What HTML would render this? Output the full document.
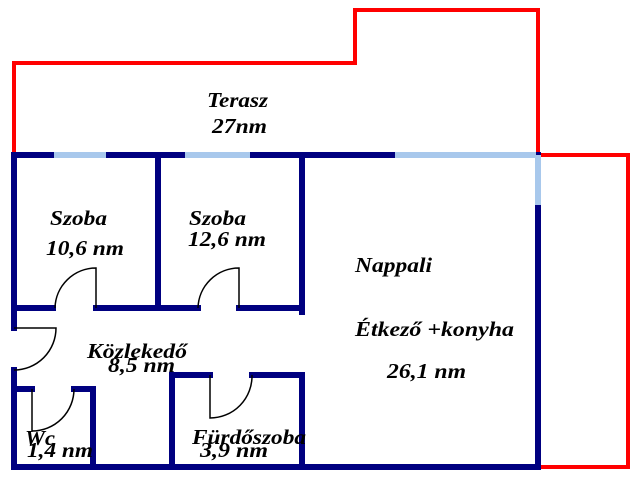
<!DOCTYPE html>
<html><head><meta charset="utf-8"><style>
html,body{margin:0;padding:0;background:#fff;}
svg{display:block}
text{font-family:"Liberation Serif",serif;font-style:italic;font-weight:bold;font-size:21px;fill:#000}
</style></head><body>
<svg width="640" height="480" viewBox="0 0 640 480" xmlns="http://www.w3.org/2000/svg">
<g fill="none" stroke="#f00" stroke-width="4">
<polyline points="14,155 14,63 355,63 355,10 538,10 538,155"/>
<polyline points="540,155 628,155 628,467 540,467"/>
</g>
<g stroke="#000080" stroke-width="6" stroke-linecap="square" fill="none">
<line x1="14" y1="155" x2="538" y2="155"/>
<line x1="14" y1="155" x2="14" y2="328"/>
<line x1="14" y1="370" x2="14" y2="467"/>
<line x1="14" y1="467" x2="538" y2="467"/>
<line x1="538" y1="205" x2="538" y2="467"/>
<line x1="158" y1="155" x2="158" y2="308"/>
<line x1="302" y1="155" x2="302" y2="312"/>
<line x1="302" y1="375" x2="302" y2="467"/>
<line x1="14" y1="308" x2="53" y2="308"/>
<line x1="96" y1="308" x2="198" y2="308"/>
<line x1="239" y1="308" x2="302" y2="308"/>
<line x1="14" y1="389" x2="32" y2="389"/>
<line x1="74" y1="389" x2="93" y2="389"/>
<line x1="93" y1="389" x2="93" y2="467"/>
<line x1="172" y1="375" x2="172" y2="467"/>
<line x1="172" y1="375" x2="210" y2="375"/>
<line x1="252" y1="375" x2="302" y2="375"/>
</g>
<g stroke="#a8c8ec" stroke-width="6">
<line x1="54" y1="155" x2="106" y2="155"/>
<line x1="185" y1="155" x2="250" y2="155"/>
<line x1="395" y1="155" x2="536" y2="155"/>
<line x1="538" y1="155" x2="538" y2="205"/>
</g>
<g stroke="#000" stroke-width="1.5" fill="none">
<path d="M96,308 L96,268 A41,41 0 0 0 55,308"/>
<path d="M239,308 L239,268 A41,41 0 0 0 198,308"/>
<path d="M14,328 L56,328 A42,42 0 0 1 14,370"/>
<path d="M32,389 L32,431 A42,42 0 0 0 74,389"/>
<path d="M210,375 L210,418 A42,42 0 0 0 252,375"/>
</g>
<g lengthAdjust="spacingAndGlyphs">
<text x="207" y="107" textLength="61" lengthAdjust="spacingAndGlyphs">Terasz</text>
<text x="212" y="133" textLength="55" lengthAdjust="spacingAndGlyphs">27nm</text>
<text x="50" y="225" textLength="57" lengthAdjust="spacingAndGlyphs">Szoba</text>
<text x="46" y="255" textLength="78" lengthAdjust="spacingAndGlyphs">10,6 nm</text>
<text x="189" y="225" textLength="57" lengthAdjust="spacingAndGlyphs">Szoba</text>
<text x="188" y="246" textLength="78" lengthAdjust="spacingAndGlyphs">12,6 nm</text>
<text x="87" y="358" textLength="100" lengthAdjust="spacingAndGlyphs">Közlekedő</text>
<text x="108" y="372" textLength="67" lengthAdjust="spacingAndGlyphs">8,5 nm</text>
<text x="355" y="272" textLength="77" lengthAdjust="spacingAndGlyphs">Nappali</text>
<text x="355" y="336" textLength="159" lengthAdjust="spacingAndGlyphs">Étkező +konyha</text>
<text x="387" y="378" textLength="79" lengthAdjust="spacingAndGlyphs">26,1 nm</text>
<text x="25" y="445" textLength="30" lengthAdjust="spacingAndGlyphs">Wc</text>
<text x="27" y="457" textLength="66" lengthAdjust="spacingAndGlyphs">1,4 nm</text>
<text x="192" y="444" textLength="114" lengthAdjust="spacingAndGlyphs">Fürdőszoba</text>
<text x="200" y="457" textLength="68" lengthAdjust="spacingAndGlyphs">3,9 nm</text>
</g>
</svg>
</body></html>
